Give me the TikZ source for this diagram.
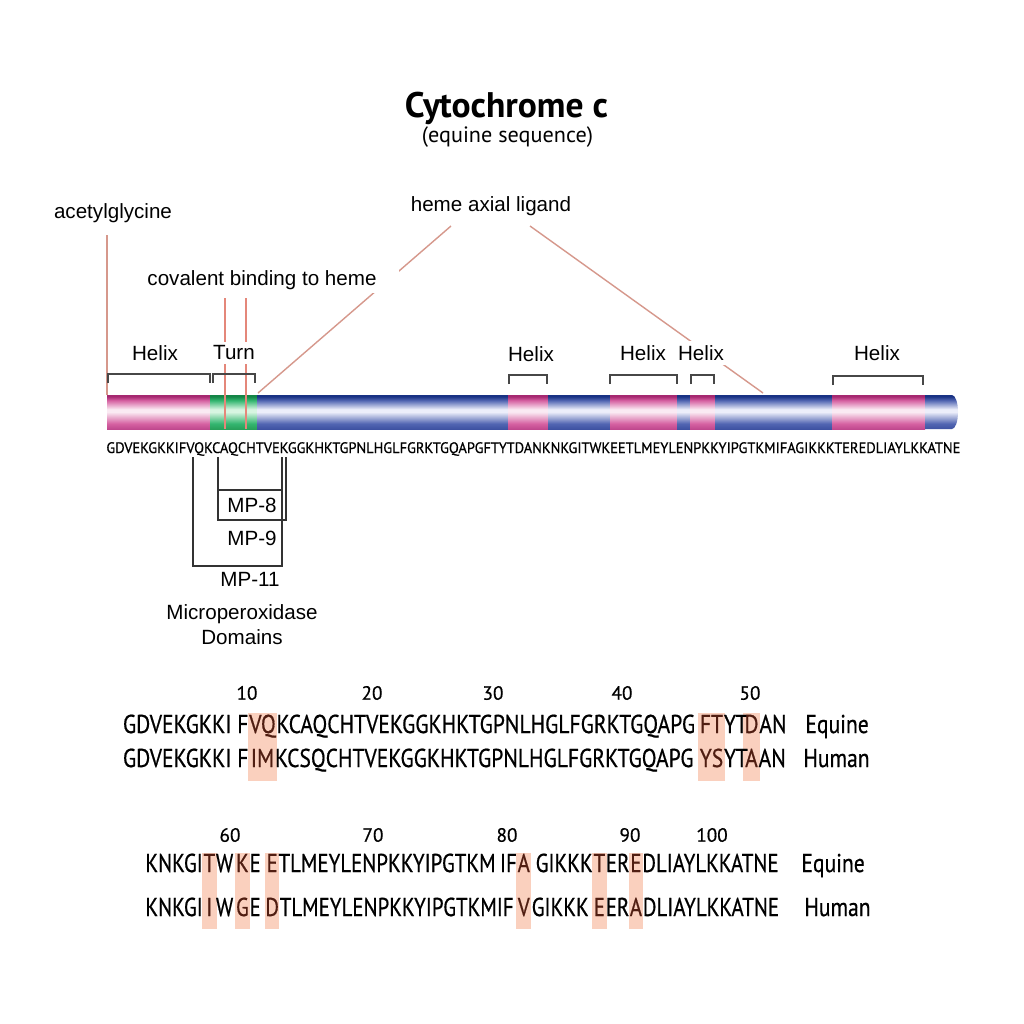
\documentclass[tikz,border=0pt]{standalone}
\usepackage{fontspec}
\setmainfont{Liberation Sans}
\newfontfamily\seqf[FakeBold=0.6]{PT Sans}
\newfontfamily\ttlf{PT Sans}
\usepackage{graphicx}
\definecolor{leadc}{RGB}{214,152,140}
\definecolor{covc}{RGB}{228,135,122}
\definecolor{hlc}{RGB}{250,208,190}
\definecolor{hltx}{RGB}{80,30,18}
\definecolor{pkT}{RGB}{165,40,112}
\definecolor{pkM}{RGB}{214,98,162}
\definecolor{pkW}{RGB}{250,234,243}
\definecolor{pkB}{RGB}{192,72,142}
\definecolor{buT}{RGB}{25,50,132}
\definecolor{buM}{RGB}{82,102,178}
\definecolor{buW}{RGB}{236,238,250}
\definecolor{buB}{RGB}{62,82,162}
\definecolor{gnT}{RGB}{20,132,70}
\definecolor{gnM}{RGB}{52,182,112}
\definecolor{gnW}{RGB}{215,245,225}
\definecolor{gnB}{RGB}{40,160,90}
\pgfdeclareverticalshading{pinkbar}{100bp}{color(0bp)=(pkB); color(25bp)=(pkB); color(33bp)=(pkM); color(50bp)=(pkW); color(54bp)=(pkW); color(67bp)=(pkM); color(73bp)=(pkT); color(75bp)=(pkT); color(100bp)=(pkT)}
\pgfdeclareverticalshading{bluebar}{100bp}{color(0bp)=(buB); color(25bp)=(buB); color(33bp)=(buM); color(50bp)=(buW); color(54bp)=(buW); color(67bp)=(buM); color(73bp)=(buT); color(75bp)=(buT); color(100bp)=(buT)}
\pgfdeclareverticalshading{greenbar}{100bp}{color(0bp)=(gnB); color(25bp)=(gnB); color(33bp)=(gnM); color(50bp)=(gnW); color(54bp)=(gnW); color(67bp)=(gnM); color(73bp)=(gnT); color(75bp)=(gnT); color(100bp)=(gnT)}
\pgfdeclarelayer{bg}
\pgfsetlayers{bg,main}
\newlength\rwA
\newlength\rwB
\newcommand\sq[1]{\scalebox{\sxA}[1]{#1}}
\newcommand\sqB[1]{\scalebox{\sxB}[1]{#1}}
\tikzset{
  lbl/.style={font=\fontsize{10.3}{12}\selectfont, inner sep=1pt},
  hxl/.style={lbl, fill=white, inner sep=2pt},
  brk/.style={draw=black!72, line width=0.6pt},
  lead/.style={draw=leadc, line width=0.7pt},
  cov/.style={draw=covc, line width=0.7pt},
  mpl/.style={draw=black!80, line width=0.55pt},
  sq/.style={inner sep=0pt, anchor=base west, font=\seqf\fontsize{12.9}{15}\selectfont},
  sqe/.style={sq, anchor=base east},
  sqc/.style={sq, anchor=base},
  hlt/.style={text=hltx},
  num/.style={inner sep=0pt, font=\seqf\fontsize{9.6}{11}\selectfont},
  hlbox/.style={fill=hlc},
}
\begin{document}
\settowidth\rwA{\seqf\fontsize{12.9}{15}\selectfont GDVEKGKKI FVQKCAQCHTVEKGGKHKTGPNLHGLFGRKTGQAPGFTYTDAN}%
\settowidth\rwB{\seqf\fontsize{12.9}{15}\selectfont KNKGITWKEETLMEYLENPKKYIPGTKMIFAGIKKKTEREDLIAYLKKATNE}%
\pgfmathsetmacro\sxA{329/\rwA}%
\pgfmathsetmacro\sxB{303/\rwB}%
\begin{tikzpicture}[x=0.5pt,y=-0.5pt]
\begin{pgfonlayer}{bg}
\fill[white] (0,0) rectangle (1024,1024);
\end{pgfonlayer}
\useasboundingbox (0,0) rectangle (1024,1024);

% title
\node[inner sep=0pt, anchor=base] (title) at (506.5,117) {\resizebox{101.5pt}{!}{\ttlf\bfseries Cytochrome c}};
\node[inner sep=0pt, anchor=base] (subtitle) at (507.5,142) {\resizebox{85.5pt}{!}{\ttlf (equine sequence)}};

% leader coordinates
\coordinate (acT) at (107,235);
\coordinate (acB) at (107,395);
\coordinate (hmL) at (451,226);
\coordinate (hmLB) at (258,393);
\coordinate (hmR) at (530,226);
\coordinate (hmRB) at (763,393);
\coordinate (cv1T) at (225,298);
\coordinate (cv1B) at (225,429);
\coordinate (cv2T) at (246,298);
\coordinate (cv2B) at (246,429);

\draw[lead] (acT) -- (acB);
\draw[lead] (hmL) -- (hmLB);
\draw[lead] (hmR) -- (hmRB);

\node[lbl] (acetyl) at (113,213) {acetylglycine};
\node[lbl] (heme) at (491,206) {heme axial ligand};
\node[lbl, fill=white, inner xsep=11pt, inner ysep=1.5pt] (covb) at (262,280) {covalent binding to heme};

% bar
\shade[shading=pinkbar] (107,395) rectangle (210,429);
\shade[shading=greenbar] (210,395) rectangle (257,429);
\shade[shading=bluebar] (257,395) rectangle (508,429);
\shade[shading=pinkbar] (508,395) rectangle (548,429);
\shade[shading=bluebar] (548,395) rectangle (610,429);
\shade[shading=pinkbar] (610,395) rectangle (677,429);
\shade[shading=bluebar] (677,395) rectangle (690,429);
\shade[shading=pinkbar] (690,395) rectangle (715,429);
\shade[shading=bluebar] (715,395) rectangle (832,429);
\shade[shading=pinkbar] (832,395) rectangle (925,429);
\shade[shading=bluebar] (925,395) -- (952,395) arc[start angle=-90, end angle=90, x radius=6, y radius=17] -- (925,429) -- cycle;

\draw[cov] (cv1T) -- (cv1B);
\draw[cov] (cv2T) -- (cv2B);

% brackets
\draw[brk] (108,383) -- (108,374) -- (210,374) -- (210,383);
\draw[brk] (213,383) -- (213,374) -- (255,374) -- (255,383);
\draw[brk] (509,384) -- (509,375) -- (547,375) -- (547,384);
\draw[brk] (610,384) -- (610,375) -- (677,375) -- (677,384);
\draw[brk] (691,384) -- (691,375) -- (714,375) -- (714,384);
\draw[brk] (833,385) -- (833,376) -- (923,376) -- (923,385);

\node[hxl] (hx1) at (155,353) {Helix};
\node[hxl] (turn) at (234,353) {Turn};
\node[hxl] (hx2) at (531,354) {Helix};
\node[hxl] (hx3) at (643,353) {Helix};
\node[hxl] (hx4) at (701,353) {Helix};
\node[hxl] (hx5) at (877,353) {Helix};

% sequence under bar
\node[inner sep=0pt, anchor=base west] (barseq) at (106,453) {\resizebox{427pt}{5.4pt}{\seqf GDVEKGKKIFVQKCAQCHTVEKGGKHKTGPNLHGLFGRKTGQAPGFTYTDANKNKGITWKEETLMEYLENPKKYIPGTKMIFAGIKKKTEREDLIAYLKKATNE}};

% microperoxidase brackets
\draw[mpl] (193,457) -- (193,566) -- (282,566) -- (282,457);
\draw[mpl] (218,457) -- (218,520) -- (286,520) -- (286,457);
\draw[mpl] (218,490) -- (282,490);
\node[lbl] (mp8) at (252,505) {MP-8};
\node[lbl] (mp9) at (252,538) {MP-9};
\node[lbl] (mp11) at (250,579) {MP-11};
\node[lbl] (mpd1) at (242,614) {Microperoxidase};
\node[lbl] (mpd2) at (242,637) {Domains};

% ---------- alignment row 1 ----------
\coordinate (r1e) at (127,733);
\coordinate (r1h) at (127,767);
\node[sqc,hlt] (e1b) at (262.5,733) {\sq{VQ}};
\node[sqe] (e1a) at (e1b.base west) {\sq{GDVEKGKKI F}};
\node[sq] (e1c) at (e1b.base east) {\sq{KCAQCHTVEKGGKHKTGPNLHGLFGRKTGQAPG}};
\node[sqc,hlt] (e1d) at (711.5,733) {\sq{FT}};
\node[sq] (e1e) at (e1d.base east) {\sq{YT}};
\node[sqc,hlt] (e1f) at (751.5,733) {\sq{D}};
\node[sq] (e1g) at (e1f.base east) {\sq{AN}};

\node[sq] (h1a) at (e1a.base west |- r1h) {\sq{GDVEKGKKI F}};
\node[sqc,hlt] (h1b) at (e1b.base |- r1h) {\sq{IM}};
\node[sq] (h1c) at (h1b.base east) {\sq{KCSQCHTVEKGGKHKTGPNLHGLFGRKTGQAPG}};
\node[sqc,hlt] (h1d) at (e1d.base |- r1h) {\sq{YS}};
\node[sq] (h1e) at (h1d.base east) {\sq{YT}};
\node[sqc,hlt] (h1f) at (e1f.base |- r1h) {\sq{A}};
\node[sq] (h1g) at (h1f.base east) {\sq{AN}};

\node[sq] (eqA) at (805,733) {\sq{Equine}};
\node[sq] (huA) at (803,767) {\sq{Human}};

\node[num] (n10) at (247,693) {10};
\node[num] (n20) at (372,693) {20};
\node[num] (n30) at (493,693) {30};
\node[num] (n40) at (622,693) {40};
\node[num] (n50) at (750,693) {50};

\coordinate (hA1) at (0,713);
\coordinate (hA2) at (0,781);
\begin{pgfonlayer}{bg}
\fill[hlbox] ([xshift=-0.6pt]e1b.west |- hA1) rectangle ([xshift=0.6pt]e1b.east |- hA2);
\fill[hlbox] ([xshift=-0.6pt]e1d.west |- hA1) rectangle ([xshift=0.6pt]e1d.east |- hA2);
\fill[hlbox] ([xshift=-0.6pt]e1f.west |- hA1) rectangle ([xshift=0.6pt]e1f.east |- hA2);
\end{pgfonlayer}

% ---------- alignment row 2 ----------
\coordinate (r2e) at (145,872);
\coordinate (r2h) at (145,916);
\node[sq] (e2a) at (r2e) {\sqB{KNKGI}};
\node[sq,hlt] (e2b) at (e2a.base east) {\sqB{T}};
\node[sq] (e2c) at (e2b.base east) {\sqB{W}};
\node[sq,hlt] (e2d) at ([xshift=1pt]e2c.base east) {\sqB{K}};
\node[sq] (e2e) at (e2d.base east) {\sqB{E}};
\node[sq,hlt] (e2f) at ([xshift=2.5pt]e2e.base east) {\sqB{E}};
\node[sq] (e2g) at (e2f.base east) {\sqB{TLMEYLENPKKYIPGTKM}};
\node[sq] (e2g2) at ([xshift=1.8pt]e2g.base east) {\sqB{IF}};
\node[sq,hlt] (e2h) at (e2g2.base east) {\sqB{A}};
\node[sq] (e2i) at ([xshift=2.5pt]e2h.base east) {\sqB{GIKKK}};
\node[sq,hlt] (e2j) at (e2i.base east) {\sqB{T}};
\node[sq] (e2k) at (e2j.base east) {\sqB{ER}};
\node[sq,hlt] (e2l) at (e2k.base east) {\sqB{E}};
\node[sq] (e2m) at (e2l.base east) {\sqB{DLIAYLKKATNE}};

\node[sq] (h2a) at (r2h) {\sqB{KNKGI}};
\node[sqc,hlt] (h2b) at (e2b.base |- r2h) {\sqB{I}};
\node[sq] (h2c) at (e2c.base west |- r2h) {\sqB{W}};
\node[sqc,hlt] (h2d) at (e2d.base |- r2h) {\sqB{G}};
\node[sq] (h2e) at (h2d.base east) {\sqB{E}};
\node[sqc,hlt] (h2f) at (e2f.base |- r2h) {\sqB{D}};
\node[sq] (h2g) at (h2f.base east) {\sqB{TLMEYLENPKKYIPGTKMIF}};
\node[sqc,hlt] (h2h) at (e2h.base |- r2h) {\sqB{V}};
\node[sq] (h2i) at ([xshift=0.6pt]h2h.base east) {\sqB{GIKKK}};
\node[sqc,hlt] (h2j) at (e2j.base |- r2h) {\sqB{E}};
\node[sq] (h2k) at (h2j.base east) {\sqB{ER}};
\node[sqc,hlt] (h2l) at (e2l.base |- r2h) {\sqB{A}};
\node[sq] (h2m) at (h2l.base east) {\sqB{DLIAYLKKATNE}};

\node[sq] (eqB) at (801,872) {\sq{Equine}};
\node[sq] (huB) at (804,916) {\sq{Human}};

\node[num] (n60) at (230,835) {60};
\node[num] (n70) at (373,835) {70};
\node[num] (n80) at (507,835) {80};
\node[num] (n90) at (630,835) {90};
\node[num] (n100) at (712,835) {100};

\coordinate (hB1) at (0,853);
\coordinate (hB2) at (0,929);
\begin{pgfonlayer}{bg}
\fill[hlbox] ([xshift=-0.5pt]e2b.west |- hB1) rectangle ([xshift=0.5pt]e2b.east |- hB2);
\fill[hlbox] ([xshift=-0.5pt]e2d.west |- hB1) rectangle ([xshift=0.5pt]e2d.east |- hB2);
\fill[hlbox] ([xshift=-0.5pt]e2f.west |- hB1) rectangle ([xshift=0.5pt]e2f.east |- hB2);
\fill[hlbox] ([xshift=-0.5pt]e2h.west |- hB1) rectangle ([xshift=0.5pt]e2h.east |- hB2);
\fill[hlbox] ([xshift=-0.5pt]e2j.west |- hB1) rectangle ([xshift=0.5pt]e2j.east |- hB2);
\fill[hlbox] ([xshift=-0.5pt]e2l.west |- hB1) rectangle ([xshift=0.5pt]e2l.east |- hB2);
\end{pgfonlayer}
\end{tikzpicture}
\end{document}
